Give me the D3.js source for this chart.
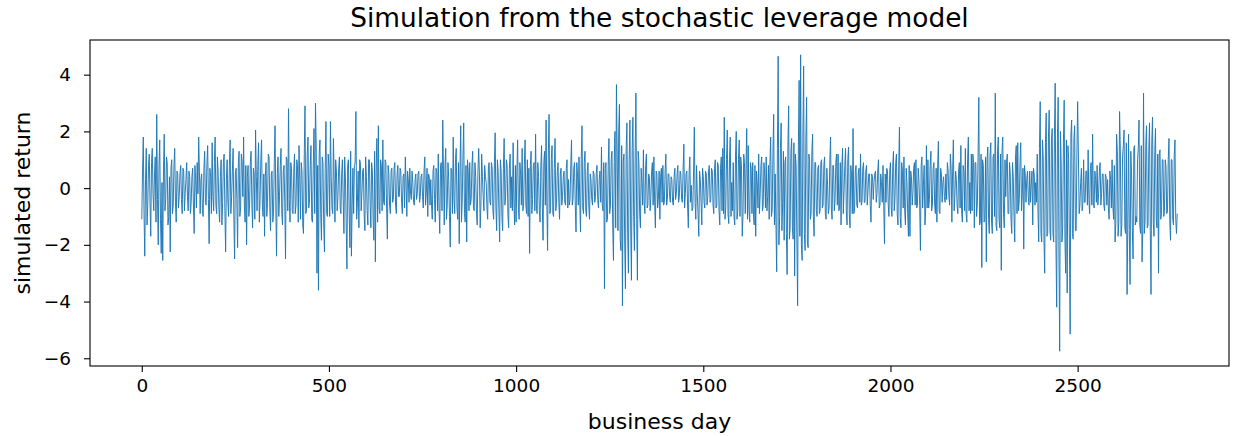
<!DOCTYPE html>
<html>
<head>
<meta charset="utf-8">
<script src="https://cdn.jsdelivr.net/npm/d3@7"></script>
<style>
  html, body { margin: 0; padding: 0; background: #fff; }
  svg { display: block; font-family: "DejaVu Sans", sans-serif; }
</style>
</head>
<body>
<svg id="chart" width="1233" height="436"></svg>
<script>
// ---- data ----
// returnsA: business days 0, 4, 8, ...   returnsB: business days 2, 6, 10, ...
const returnsA = [
// 0-99
-1.1,1.8,-2.4,1.4,-0.6,1.2,-1.7,1.4,-0.8,1.1,2.6,-2.0,1.7,-2.3,-2.55,1.9,-0.4,0.9,-1.0,-2.25,1.0,-0.6,1.4,-1.2,0.5,
// 100-199
-0.3,0.8,-0.9,0.6,-0.2,0.9,-0.8,0.4,-0.5,0.7,-1.6,0.3,0.9,1.8,-0.9,0.5,-1.0,1.3,-0.6,1.5,-1.96,0.4,1.6,-0.8,1.8,
// 200-299
-0.9,0.6,-1.2,1.0,-0.5,1.2,-2.25,1.0,-1.0,1.7,-0.3,1.4,-2.5,0.7,-2.1,1.3,-0.7,0.9,1.8,-1.2,-2.0,0.8,-0.6,1.3,-1.4,
// 300-399
0.5,2.05,-0.8,1.6,-0.4,1.7,-1.0,-1.7,0.9,-0.5,1.1,-1.5,0.6,-0.9,2.2,-2.4,1.1,-0.3,1.4,-1.3,0.8,-2.5,1.0,2.8,-1.2,
// 400-499
0.7,-0.9,1.2,-0.6,0.8,1.5,-1.1,0.6,-1.6,2.9,-0.8,1.8,-0.5,1.5,-1.2,2.1,3.0,-3.0,-3.6,1.7,-1.84,0.9,-2.25,2.35,-1.0,
// 500-599
0.8,2.35,-0.7,1.75,-1.2,0.6,-0.3,1.1,-0.9,1.0,-1.6,0.4,-2.85,1.0,-2.1,-2.4,0.7,0.8,2.7,-0.5,-1.4,0.9,-0.2,0.7,-1.5,
// 600-699
0.4,-1.3,1.0,-1.4,0.6,-1.84,-2.6,1.75,2.2,-0.9,0.8,1.7,-0.6,0.9,-1.8,0.5,-0.9,0.7,-0.4,0.9,-0.9,0.8,-0.3,0.6,-0.9,
// 700-799
0.5,1.1,-1.0,0.3,0.7,-0.4,0.2,-0.6,0.5,-0.2,0.6,-0.3,0.5,-0.7,1.1,-0.2,-1.0,0.4,0.3,-1.1,0.8,-1.2,0.6,1.2,-1.6,
// 800-899
0.9,2.4,-1.3,1.4,-0.6,0.3,-2.08,0.6,1.8,-0.9,1.4,-1.1,-1.96,2.2,-0.5,2.3,-1.2,-1.9,0.6,0.9,-0.4,1.3,-0.8,0.4,-1.3,
// 900-999
1.4,-1.4,1.2,-0.3,0.8,0.2,-1.1,0.9,-0.6,0.7,-1.1,1.95,-1.5,0.6,-1.9,0.6,-1.5,1.75,-0.3,0.8,-1.4,1.2,0.4,1.6,-1.3,
// 1000-1099
-1.2,1.7,-1.1,0.5,1.4,-0.6,1.7,-0.9,-1.0,-2.3,1.3,-0.4,0.9,1.9,-0.9,0.4,-1.2,1.5,-1.84,1.3,2.4,-2.2,2.6,-0.8,1.5,
// 1100-1199
-1.0,1.75,-0.5,0.9,-1.1,0.7,-0.3,0.6,-0.6,1.0,0.3,-0.4,1.7,-0.4,0.9,-1.55,0.5,1.1,-1.55,2.2,-0.9,1.3,-1.0,0.9,-1.1,
// 1200-1299
0.3,-0.6,0.5,-0.3,0.8,-0.7,0.6,1.45,-0.8,-3.55,0.9,-1.1,1.75,-0.6,1.3,-2.55,2.0,3.65,-1.5,2.95,-2.2,-4.15,1.2,-3.55,2.3,
// 1300-1399
-3.0,2.4,-3.25,2.5,-2.2,3.35,-3.25,0.9,-1.4,0.2,1.35,-0.9,1.2,-0.6,0.4,-0.3,0.9,1.1,-1.4,0.5,-0.4,-1.1,0.7,0.8,-0.5,
// 1400-1499
1.2,-0.4,0.5,-0.5,0.3,-0.6,0.7,-0.2,0.8,-0.3,0.5,-0.5,1.55,-0.2,0.6,-1.4,1.1,0.1,-0.7,2.15,-1.1,-0.2,-1.7,0.3,-1.3,
// 1500-1599
0.4,-0.7,0.5,-0.3,0.8,-0.4,0.6,-0.9,1.0,-0.6,0.8,-1.3,1.1,1.4,2.5,-0.7,2.05,-1.25,1.8,0.2,0.9,-1.3,2.0,-0.8,1.7,
// 1600-1699
1.1,-1.7,1.2,-0.9,2.1,1.5,-1.2,0.7,0.9,-1.3,-1.7,0.2,1.2,-0.2,1.1,-0.6,0.5,1.1,-0.3,-1.1,1.8,-0.8,2.6,0.5,-2.95,
// 1700-1799
4.65,-1.0,2.3,-0.5,-1.84,1.1,-3.05,2.9,-1.4,1.75,-1.8,-3.1,0.8,-4.15,3.8,4.7,-2.55,4.3,-2.2,3.2,-2.1,1.0,-0.9,1.9,-1.7,
// 1800-1899
0.9,-1.0,0.8,-0.8,1.0,-0.6,1.1,-1.1,0.1,-0.7,1.8,-1.1,0.8,-0.4,1.2,1.2,-0.7,-1.3,1.4,-0.1,1.4,-1.3,1.45,-1.4,0.5,
// 1900-1999
2.1,-0.8,0.8,-0.7,0.7,1.2,-0.5,0.9,-0.5,0.8,-0.1,0.5,-1.2,0.4,0.2,0.6,-0.2,1.0,-0.6,0.2,0.8,-1.96,-0.5,0.6,-1.0,
// 2000-2099
0.9,-1.0,1.3,-0.4,1.2,-1.3,2.15,-1.4,0.6,1.1,-1.3,0.2,-1.7,-1.7,0.4,-0.2,0.9,1.0,-0.6,0.3,-2.2,1.1,0.1,-1.3,1.5,
// 2100-2199
1.0,-0.4,1.3,-0.6,0.9,-0.9,-1.2,1.65,-0.9,0.5,0.2,-0.3,0.5,0.9,-0.3,1.2,-1.2,1.7,-0.3,0.3,-0.9,0.9,1.5,-1.2,0.6,
// 2200-2299
1.4,-1.2,1.8,0.2,1.2,1.2,-1.4,0.9,-0.6,3.2,-1.2,-2.8,0.8,-1.1,-2.6,1.45,-1.6,1.6,-1.6,1.2,3.35,-1.5,1.8,-1.4,-2.9,
// 2300-2399
1.8,-1.4,-0.3,1.2,-0.9,0.5,-1.6,0.4,-1.9,1.5,1.6,-0.4,1.6,-0.2,-2.15,0.5,0.3,-0.3,0.6,0.1,-1.3,0.5,0.2,1.2,-1.9,
// 2400-2499
3.05,-1.9,1.1,-3.0,2.65,-1.6,2.75,-1.84,2.1,-1.9,3.7,-4.2,3.2,-5.75,0.9,-1.4,3.1,-3.0,-3.7,1.0,-5.15,2.4,-1.8,2.2,-1.5,
// 2500-2599
3.05,-0.9,0.2,-0.8,1.0,-0.5,0.6,1.35,-0.9,0.9,1.9,-0.7,0.3,0.8,-0.2,0.9,-0.2,0.5,-0.8,0.4,0.3,-1.1,0.3,1.0,-1.1,
// 2600-2699
-1.9,1.9,-1.7,2.7,-1.7,1.1,2.05,-1.6,-3.75,1.9,-3.4,0.5,-2.5,1.5,-1.0,1.0,2.4,-1.6,-2.6,3.35,-1.2,2.2,-1.3,2.3,-3.75,
// 2700-2764
2.5,-1.7,2.1,-1.4,-3.0,1.35,-0.9,1.0,-0.8,0.75,-0.8,1.75,-1.84,1.0,-1.3,1.7,-1.6
];
const returnsB = [
// 2-98
0.6,-0.9,0.3,-1.3,0.8,-0.5,0.9,-0.2,0.5,-1.2,-0.4,0.8,-1.1,0.2,0.6,-0.8,1.1,-1.3,0.4,0.7,-0.9,0.8,-0.5,0.6,-0.7,
// 102-198
0.5,-0.4,0.7,-0.8,0.3,-0.3,0.6,-0.9,0.4,-0.6,0.8,-0.7,-0.2,0.6,0.3,-0.8,0.7,-0.5,0.9,-0.4,0.7,-0.9,-0.3,0.9,-0.6,
// 202-298
1.1,-0.7,0.4,-1.3,0.9,-0.8,0.3,-0.5,0.8,-0.9,0.6,-1.1,0.5,-0.4,0.9,-1.0,1.2,-0.3,-0.6,0.8,0.4,-1.0,0.9,-0.5,0.7,
// 302-398
-1.1,0.4,0.8,-1.2,1.0,-0.6,0.5,0.4,-1.0,1.2,-0.7,0.5,-1.2,0.9,-0.6,0.5,-1.0,0.8,-0.9,0.6,-0.5,1.1,-0.8,-0.4,0.9,
// 402-498
-0.8,0.6,-0.9,1.0,-1.2,0.3,0.9,-1.3,1.1,-0.9,1.2,-0.7,0.8,-1.1,0.7,-0.9,1.5,0.8,1.2,-0.9,1.1,-1.3,0.7,-0.9,1.2,
// 502-598
-1.0,0.4,-0.9,0.3,1.0,-0.8,0.7,-0.7,0.5,-0.4,1.1,-1.2,0.8,-0.9,1.3,-0.6,-0.9,0.9,-1.1,0.6,1.0,-0.8,0.6,-0.9,1.1,
// 602-698
-0.8,1.0,-0.6,0.9,-1.1,1.3,0.6,-1.2,-0.7,1.0,-0.8,-0.5,1.0,-0.7,0.8,-0.6,0.6,-0.5,0.7,-0.6,0.5,-0.3,0.7,-0.5,0.4,
// 702-798
-0.7,0.2,0.6,-0.5,-0.2,0.6,-0.5,0.3,-0.4,0.5,-0.5,0.4,-0.3,0.6,-0.6,0.7,0.5,-0.6,-0.6,0.6,-0.4,0.7,-0.8,-0.7,0.8,
// 802-898
-0.8,0.5,0.8,-1.1,0.9,-1.0,0.7,-0.9,-0.4,1.0,-0.7,0.9,0.6,-1.2,1.1,-0.9,0.8,1.0,-0.8,-0.6,0.8,-0.7,0.9,-0.8,0.6,
// 902-998
0.5,-0.6,0.4,-0.8,0.4,-0.7,0.8,-0.5,0.9,-0.8,0.9,-0.7,1.0,-0.8,1.0,-1.0,0.7,-0.6,1.0,-0.9,0.7,-0.7,-0.8,-0.5,0.8,
// 1002-1098
0.6,-0.7,0.9,-0.6,-0.8,0.8,-0.6,1.0,0.7,0.8,-0.9,0.8,-0.8,-0.6,0.9,-0.8,0.8,-0.7,0.9,-0.6,-0.5,1.2,-0.9,1.0,-0.9,
// 1102-1198
0.7,-0.8,0.6,-0.5,0.5,-0.6,0.4,-0.5,0.7,-0.7,-0.6,0.8,-0.6,0.7,-0.6,0.9,-0.6,-0.5,1.0,-0.7,0.9,-0.8,0.6,-0.6,0.5,
// 1202-1298
-0.4,0.6,-0.5,0.5,-0.4,0.3,-0.5,-0.6,0.9,0.7,-1.2,0.8,-0.9,1.0,-1.3,0.9,-1.4,1.2,2.0,-1.8,1.5,0.9,-1.9,1.4,-1.6,
// 1302-1398
1.0,-1.3,1.4,-1.0,1.2,-1.1,1.3,-0.9,0.7,-0.6,-0.5,0.8,-0.7,0.5,-0.8,0.6,-0.6,-0.5,0.6,-0.7,0.6,0.4,-0.5,-0.6,0.6,
// 1402-1498
-0.6,0.5,-0.3,0.4,-0.5,0.4,-0.4,0.5,-0.5,0.6,-0.4,0.6,-0.7,0.5,-0.6,0.5,-0.5,-0.8,0.6,-0.5,0.8,-0.9,0.6,-0.5,0.7,
// 1502-1598
-0.5,0.6,-0.6,0.6,-0.5,0.7,-0.6,0.7,-0.7,0.9,-0.8,0.7,-0.8,-0.9,-1.1,1.0,-0.9,1.1,-1.0,-0.8,-1.0,1.1,-1.1,1.0,-1.0,
// 1602-1698
0.8,-1.0,0.9,0.7,-1.1,-0.8,0.9,-0.9,-1.0,0.8,0.6,-0.7,-0.9,0.8,-0.8,0.9,-0.7,-0.8,0.8,0.9,-1.0,1.2,-1.3,-1.2,1.4,
// 1702-1798
-2.0,1.4,-1.5,1.3,0.9,-1.6,1.5,-1.8,1.3,-1.4,1.6,1.2,-1.9,1.5,-1.7,-2.0,1.8,-1.6,1.7,-1.9,1.2,-1.1,1.3,-1.0,0.9,
// 1802-1898
-0.8,0.7,-0.9,0.9,-0.7,0.8,-0.9,0.7,-0.9,1.0,-0.7,0.8,-0.8,0.9,-0.6,-0.8,0.9,0.7,-0.9,0.8,-0.8,1.0,-0.9,0.8,-0.9,
// 1902-1998
-0.9,0.6,-0.6,0.5,-0.5,-0.6,0.7,-0.5,0.6,-0.6,0.5,-0.6,0.5,-0.4,0.5,-0.5,0.6,-0.7,0.5,-0.5,-0.6,0.5,0.7,-0.6,0.6,
// 2002-2098
-0.7,0.8,-0.8,0.9,-0.9,0.8,-1.0,0.9,-0.7,-0.8,0.7,-0.9,0.8,0.6,-0.6,0.7,-0.6,-0.7,0.7,-0.6,0.8,-0.7,0.8,-0.8,-0.7,
// 2102-2198
-0.7,0.8,-0.8,0.7,-0.6,0.7,0.8,-0.8,0.7,-0.5,0.4,-0.5,-0.4,0.6,-0.6,0.7,0.6,-0.8,0.6,-0.6,0.6,-0.7,-0.8,0.8,-0.8,
// 2202-2298
-0.9,1.0,-0.8,-0.9,-0.8,0.9,0.9,-1.0,1.1,-1.3,1.2,1.0,-1.2,1.1,1.0,-1.1,1.2,-1.2,1.1,-1.0,-1.3,1.3,-1.1,1.2,1.3,
// 2302-2398
-0.9,1.0,0.9,-0.9,0.9,-1.1,0.9,-1.0,1.1,-0.9,-0.8,0.9,-0.8,0.7,0.8,-0.5,0.6,-0.6,-0.5,0.6,0.7,-0.6,-0.5,-0.8,1.4,
// 2402-2498
-1.6,1.7,-1.8,1.6,-1.7,1.8,-1.5,1.7,-1.6,1.9,-2.0,1.8,-2.2,2.0,-1.9,1.6,-1.8,1.7,1.5,-2.0,1.9,-1.6,1.7,-1.5,1.2,
// 2502-2598
1.2,-0.6,0.7,-0.5,-0.5,0.6,-0.6,-0.4,0.7,-0.6,-0.5,0.6,-0.5,-0.6,0.6,-0.6,0.5,-0.6,0.5,-0.6,-0.7,0.6,-0.7,-0.6,0.8,
// 2602-2698
-1.2,1.3,-1.2,1.4,-1.3,1.5,-1.4,1.6,-1.2,-1.5,1.3,-1.4,1.4,-1.3,-1.2,1.4,-1.3,1.5,-1.5,-1.6,1.5,-1.4,1.3,-1.5,1.6,
// 2702-2766
-1.2,1.3,-1.1,1.2,1.2,-1.1,1.0,-1.0,1.0,-0.9,1.0,-1.1,1.0,-1.1,1.1,-1.1,-0.9
];
const xTicks = [0, 500, 1000, 1500, 2000, 2500];
const yTicks = [-6, -4, -2, 0, 2, 4];
const titleText = "Simulation from the stochastic leverage model";
const xLabelText = "business day";
const yLabelText = "simulated return";

// ---- build the series (days 0,2,4,...) ----
const series = [];
returnsA.forEach((v, i) => {
  series.push({ day: 4 * i, value: v });
  if (i < returnsB.length) series.push({ day: 4 * i + 2, value: returnsB[i] });
});

// ---- layout ----
const plot = { left: 90, right: 1229, top: 40, bottom: 366 };
const svg = d3.select("#chart");

const xExt = d3.extent(series, d => d.day);
const xPad = (xExt[1] - xExt[0]) * 0.05;
const yExt = d3.extent(series, d => d.value);
const yPad = (yExt[1] - yExt[0]) * 0.05;

const x = d3.scaleLinear().domain([xExt[0] - xPad, xExt[1] + xPad]).range([plot.left, plot.right]);
const y = d3.scaleLinear().domain([yExt[0] - yPad, yExt[1] + yPad]).range([plot.bottom, plot.top]);

// line
const line = d3.line().x(d => x(d.day)).y(d => y(d.value));
svg.append("path")
  .datum(series)
  .attr("d", line)
  .attr("fill", "none")
  .attr("stroke", "#1f77b4")
  .attr("stroke-width", 0.95)
  .attr("stroke-linejoin", "round");

// axes
const xAxis = d3.axisBottom(x).tickValues(xTicks).tickSize(6).tickPadding(7).tickFormat(d3.format("d"));
const yAxis = d3.axisLeft(y).tickValues(yTicks).tickSize(6).tickPadding(13)
  .tickFormat(d => (d < 0 ? "\u2212" + Math.abs(d) : String(d)));

const gx = svg.append("g").attr("transform", `translate(0,${plot.bottom})`).call(xAxis);
const gy = svg.append("g").attr("transform", `translate(${plot.left},0)`).call(yAxis);
[gx, gy].forEach(g => {
  g.select(".domain").remove();
  g.selectAll(".tick line").attr("stroke", "#000").attr("stroke-width", 1.1);
  g.selectAll(".tick text").attr("fill", "#000").style("font-size", "18.5px")
    .style("font-family", "'DejaVu Sans', sans-serif");
});

// frame
svg.append("rect")
  .attr("x", plot.left).attr("y", plot.top)
  .attr("width", plot.right - plot.left).attr("height", plot.bottom - plot.top)
  .attr("fill", "none").attr("stroke", "#000").attr("stroke-width", 1.1);

// labels
svg.append("text")
  .attr("x", (plot.left + plot.right) / 2).attr("y", 27)
  .attr("text-anchor", "middle").style("font-size", "26.4px").attr("fill", "#000")
  .text(titleText);
svg.append("text")
  .attr("x", (plot.left + plot.right) / 2).attr("y", 429)
  .attr("text-anchor", "middle").style("font-size", "22px").attr("fill", "#000")
  .text(xLabelText);
svg.append("text")
  .attr("transform", `translate(30,${(plot.top + plot.bottom) / 2}) rotate(-90)`)
  .attr("text-anchor", "middle").style("font-size", "22px").attr("fill", "#000")
  .text(yLabelText);
</script>
</body>
</html>
